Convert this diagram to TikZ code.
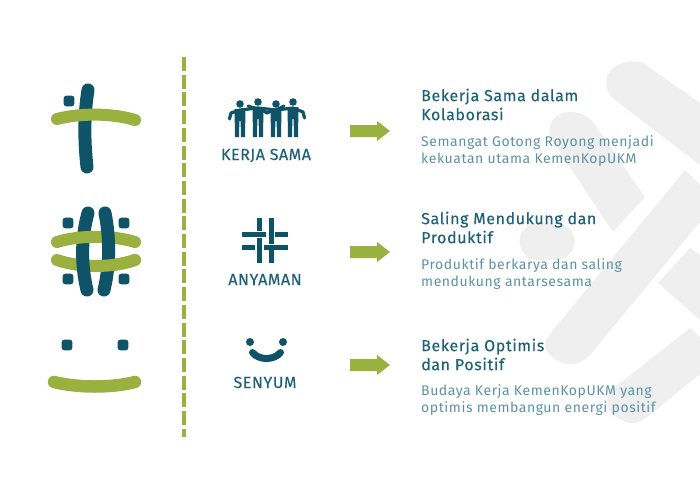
\documentclass[tikz,border=0pt]{standalone}
\usepackage{fontspec}
\setmainfont{Fira Sans}
\usetikzlibrary{arrows.meta, positioning}
\definecolor{tealdark}{HTML}{0F5369}
\definecolor{leaf}{HTML}{9AB13F}
\definecolor{wmgray}{HTML}{EFEFEF}
\definecolor{titleteal}{HTML}{1D6276}
\definecolor{bodyteal}{HTML}{5B93A3}
\newfontfamily\titlefont[FakeBold=0.2]{Fira Sans}
\tikzset{
  tealband/.style={draw=tealdark, line width=13pt, line cap=round},
  leafband/.style={draw=leaf, line width=12pt, line cap=round},
  dotbox/.style={fill=tealdark, rounded corners=2.5pt},
  thinweave/.style={draw=tealdark, line width=5pt},
  watermark/.style={fill=wmgray, draw=none},
  pointer/.style={fill=leaf, draw=none},
  iconlabel/.style={text=titleteal, font=\titlefont\fontsize{16}{17}\selectfont\addfontfeatures{LetterSpace=3.6}, inner sep=0pt, anchor=base},
  titletext/.style={text=titleteal, font=\titlefont\fontsize{16}{19}\selectfont\addfontfeatures{LetterSpace=3.8}, align=left, inner sep=0pt, anchor=north west},
  bodytext/.style={text=bodyteal, font=\fontsize{14}{17}\selectfont\addfontfeatures{LetterSpace=4}, align=left, inner sep=0pt, anchor=north west},
}
\newcommand{\dotsq}[2]{\fill[dotbox] (#1-5.3,#2-5.3) rectangle (#1+5.3,#2+5.3);}
\begin{document}
\begin{tikzpicture}[x=1pt, y=-1pt]
\useasboundingbox (0,0) rectangle (700,500);

% Watermark behind the text
\fill[watermark] (643,63) -- (700,103) -- (700,165) -- (615,100)
  .. controls (600,88) and (606,70) .. (618,65) .. controls (626,61) and (636,60) .. (643,63) -- cycle;
\fill[watermark] (595,125) -- (645,197) -- (613,232) -- (552,140)
  .. controls (544,124) and (556,112) .. (570,112) .. controls (582,112) and (590,117) .. (595,125) -- cycle;
\draw[wmgray, line width=37pt, line cap=round] (538,241) -- (556,241);
\fill[watermark] (685,170) -- (700,185) -- (700,222) -- (590,355)
  .. controls (578,368) and (560,366) .. (550,355) .. controls (544,349) and (544,342) .. (549,335) -- cycle;
\fill[watermark] (690,248) -- (658,283) -- (700,320) -- (700,255) -- cycle;
\fill[watermark] (690,328) -- (700,337) -- (700,374) -- (645,419)
  .. controls (632,428) and (618,420) .. (610,412) .. controls (606,404) and (606,394) .. (614,388) -- cycle;

% Divider
\draw[leaf, line width=3.2pt, dash pattern=on 14pt off 3.7pt] (184,57) -- (184,437);

% Kerja sama mark
\dotsq{69}{101}
\draw[tealband] (88,90) .. controls (84,115) and (84,140) .. (87,167);
\draw[leafband] (57,119) .. controls (80,113) and (112,113) .. (135,120);

% Anyaman mark
\draw[leafband] (57,260) .. controls (80,268) and (112,268) .. (135,260);
\draw[tealband] (88,213) .. controls (81,238) and (81,265) .. (87,290);
\draw[leafband] (57,242) .. controls (80,235) and (112,235) .. (135,242);
\draw[tealband] (105,213) .. controls (110,238) and (110,265) .. (104,290);
\begin{scope}
\clip (97,250) rectangle (145,280);
\draw[leafband] (57,260) .. controls (80,268) and (112,268) .. (135,260);
\end{scope}
\foreach \sqx in {68,124}
  \foreach \sqy in {223,279} {
    \dotsq{\sqx}{\sqy}
  }

% Senyum mark
\dotsq{67}{345}
\dotsq{123}{345}
\draw[leafband, line width=12.5pt] (54,382) .. controls (78,388) and (112,388) .. (135,382);

% People icon
\foreach \px/\py in {240/104, 258/102, 276/104, 293/102} {
  \fill[tealdark] (\px,\py) circle[radius=3.8pt];
  \fill[tealdark] (\px-5.5,\py+5) -- (\px+5.5,\py+5) -- (\px+5,137) -- (\px+1,137) -- (\px+0.6,\py+17) -- (\px-0.6,\py+17) -- (\px-1,137) -- (\px-5,137) -- cycle;
}
\draw[tealdark, line width=3.2pt, line cap=round, line join=round] (229.5,119) -- (231,113) -- (240,110) -- (258,108) -- (276,110) -- (293,108) -- (303,112) -- (304.5,118);
\draw[tealdark, line width=3pt, line cap=round] (248,106) -- (258,109) -- (268,113);
\draw[tealdark, line width=3pt, line cap=round] (266,113) -- (276,110) -- (284,106);

% Anyaman icon
\draw[thinweave] (259.5,218) -- (259.5,231);
\draw[thinweave] (259.5,238) -- (259.5,263);
\draw[thinweave] (271,218) -- (271,243.5);
\draw[thinweave] (271,250) -- (271,263);
\draw[thinweave] (242,234.5) -- (266,234.5);
\draw[thinweave] (275,234.5) -- (288,234.5);
\draw[thinweave] (242,247) -- (255,247);
\draw[thinweave] (263.5,247) -- (288,247);

% Smile icon
\fill[tealdark] (250,342) circle[radius=4pt];
\fill[tealdark] (283,342) circle[radius=4pt];
\draw[tealdark, line width=7pt, line cap=round] (252.5,352.5) .. controls (259,360.5) and (274,360.5) .. (280.5,352.5);

% Labels
\node[iconlabel] (kerjalabel) at (266,160) {KERJA SAMA};
\node[iconlabel] (anyamanlabel) at (265,285) {ANYAMAN};
\node[iconlabel] (senyumlabel) at (265,388) {SENYUM};

% Arrows
\foreach \ay in {131,252,365} {
  \fill[pointer] (350,\ay-6) -- (377,\ay-6) -- (377,\ay-10) -- (390,\ay) -- (377,\ay+10) -- (377,\ay+6) -- (350,\ay+6) -- cycle;
}

% Text blocks
\node[titletext] (titlekerja) at (421,88.5) {Bekerja Sama dalam\\Kolaborasi};
\node[bodytext] (bodykerja) at (421,135) {Semangat Gotong Royong menjadi\\kekuatan utama KemenKopUKM};
\node[titletext] (titleanyaman) at (421,211.5) {Saling Mendukung dan\\Produktif};
\node[bodytext] (bodyanyaman) at (421,258) {Produktif berkarya dan saling\\mendukung antarsesama};
\node[titletext] (titlesenyum) at (421,338.5) {Bekerja Optimis\\dan Positif};
\node[bodytext] (bodysenyum) at (421,384) {Budaya Kerja KemenKopUKM yang\\optimis membangun energi positif};
\end{tikzpicture}
\end{document}
